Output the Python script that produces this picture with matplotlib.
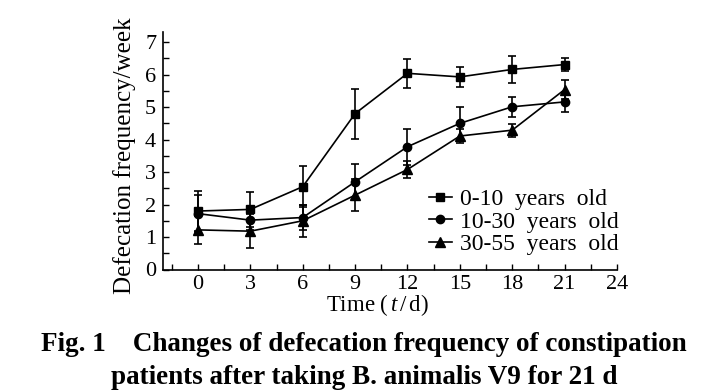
import numpy as np
import matplotlib
matplotlib.use("Agg")
import matplotlib.pyplot as plt
from matplotlib.ticker import MultipleLocator

plt.rcParams['font.family'] = ['Liberation Serif', 'DejaVu Serif']
plt.rcParams['mathtext.fontset'] = 'custom'
plt.rcParams['mathtext.it'] = 'Liberation Serif:italic'
plt.rcParams['mathtext.rm'] = 'Liberation Serif'

# data
days = [0, 3, 6, 9, 12, 15, 18, 21]
g1 = [1.80, 1.85, 2.55, 4.80, 6.04, 5.93, 6.16, 6.31]
g1_sd = [0.62, 0.54, 0.63, 0.77, 0.45, 0.30, 0.41, 0.20]
g2 = [1.72, 1.52, 1.60, 2.70, 3.78, 4.50, 5.01, 5.16]
g2_sd = [0.57, 0.30, 0.38, 0.55, 0.56, 0.51, 0.31, 0.32]
g3 = [1.22, 1.18, 1.50, 2.29, 3.08, 4.11, 4.29, 5.54]
g3_sd = [0.44, 0.53, 0.50, 0.50, 0.27, 0.21, 0.20, 0.30]
labels = ['0-10  years  old', '10-30  years  old', '30-55  years  old']

fig = plt.figure(figsize=(7.28, 3.92), dpi=100)
ax = fig.add_axes([0.224, 0.3125, 0.6235, 0.6065])

series = [(g1, g1_sd, 's', 6), (g2, g2_sd, 'o', 6), (g3, g3_sd, '^', 7.5)]
for (y, sd, m, ms), lab in zip(series, labels):
    ax.errorbar(days, y, yerr=sd, color='black', marker=m, markersize=ms,
                linewidth=1.2, elinewidth=1.2, capsize=3, capthick=1.2, label=lab)

ax.set_xlim(-2, 24)
ax.set_ylim(0, 7.32)
ax.xaxis.set_minor_locator(MultipleLocator(1.5))
ax.yaxis.set_major_locator(MultipleLocator(1))
ax.yaxis.set_minor_locator(MultipleLocator(0.5))
ax.set_xticks([0, 3, 6, 9, 12, 15, 18, 21, 24])
ax.tick_params(which='both', direction='in', length=4, width=1, labelsize=16)
ax.tick_params(axis='x', pad=4)
ax.tick_params(axis='y', pad=5)
ax.spines['top'].set_visible(False)
ax.spines['right'].set_visible(False)
for s in ['left', 'bottom']:
    ax.spines[s].set_linewidth(1.2)

ax.set_ylabel('Defecation frequency/week', fontsize=18, va='center')
ax.yaxis.set_label_coords(-0.084, 0.48)
ax.set_xlabel(r'Time ($\,t\,$/$\,$d)', fontsize=16.5, va='center')
ax.xaxis.set_label_coords(0.471, -0.15)

handles, labs = ax.get_legend_handles_labels()
handles = [h[0] for h in handles]
ax.legend(handles, labs, loc='lower right', bbox_to_anchor=(1.005, 0.06),
          frameon=False, fontsize=17, handlelength=1.0, handletextpad=0.35,
          labelspacing=0.05, borderpad=0, borderaxespad=0)

fig.text(0.5, 0.12, 'Fig. 1    Changes of defecation frequency of constipation',
         ha='center', va='center', fontsize=19.5, fontweight='bold')
fig.text(0.5, 0.038, 'patients after taking B. animalis V9 for 21 d',
         ha='center', va='center', fontsize=19.5, fontweight='bold')

fig.savefig('out.png', dpi=100)
